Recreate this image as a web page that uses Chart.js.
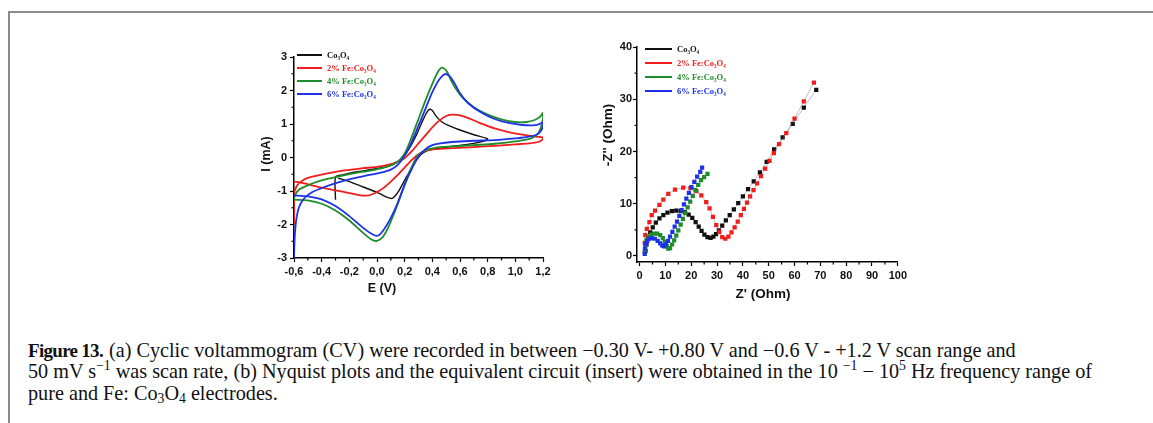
<!DOCTYPE html>
<html>
<head>
<meta charset="utf-8">
<script src="https://cdn.jsdelivr.net/npm/chart.js@4.4.1/dist/chart.umd.min.js"></script>
<style>
  html, body { margin: 0; padding: 0; background: #fff; }
  body { width: 1153px; height: 423px; position: relative; overflow: hidden; }
  .frame-top { position: absolute; left: 8px; top: 11px; right: 0; height: 2px; background: #8c8c8c; }
  .frame-left { position: absolute; left: 8px; top: 11px; width: 2px; bottom: 0; background: #8c8c8c; }
  #cv { position: absolute; left: 250px; top: 40px; }
  #ny { position: absolute; left: 600px; top: 30px; }
  .caption { position: absolute; left: 28px; top: 340px; font-family: "Liberation Serif", "DejaVu Serif", serif;
             font-size: 20.2px; line-height: 21.3px; color: #111; white-space: nowrap; }
  .caption b { font-size: 19px; letter-spacing: -0.7px; margin-right: 1px; }
  .caption sup { font-size: 0.68em; line-height: 0; vertical-align: 0.55em; }
  .caption sub { font-size: 0.68em; line-height: 0; vertical-align: -0.25em; }
</style>
</head>
<body>
<div class="frame-top"></div>
<div class="frame-left"></div>
<canvas id="cv" width="310" height="260"></canvas>
<canvas id="ny" width="310" height="275"></canvas>
<div class="caption"><b>Figure 13.</b> (a) Cyclic voltammogram (CV) were recorded in between −0.30 V- +0.80 V and −0.6 V - +1.2 V scan range and<br>50 mV s<sup>−1</sup> was scan rate, (b) Nyquist plots and the equivalent circuit (insert) were obtained in the 10 <sup>−1</sup> − 10<sup>5</sup> Hz frequency range of<br>pure and Fe: Co<sub>3</sub>O<sub>4</sub> electrodes.</div>

<script>
// series names and colours
const seriesNames = ['Co₃O₄', '2% Fe:Co₃O₄', '4% Fe:Co₃O₄', '6% Fe:Co₃O₄'];
const seriesColors = ['#111111', '#f21c1c', '#1f8c2a', '#1d32e8'];

// (a) cyclic voltammograms: E (V) / I (mA)
const cvE_co = [-0.30,-0.30,-0.25,-0.20,-0.10,0.00,0.08,0.14,0.19,0.24,0.29,0.33,0.36,0.38,0.40,0.43,0.47,0.52,0.60,0.70,0.80,
                0.78,0.70,0.60,0.50,0.42,0.36,0.32,0.28,0.24,0.20,0.16,0.13,0.11,0.08,0.04,0.00,-0.10,-0.20,-0.28];
const cvI_co = [-1.26,-0.58,-0.52,-0.47,-0.40,-0.33,-0.26,-0.16,0.02,0.32,0.72,1.10,1.35,1.44,1.40,1.22,1.06,0.95,0.82,0.68,0.56,
                0.50,0.42,0.36,0.31,0.26,0.20,0.10,-0.10,-0.38,-0.68,-0.98,-1.15,-1.22,-1.20,-1.12,-1.04,-0.88,-0.72,-0.62];

const cvE_fe2 = [-0.60,-0.60,-0.58,-0.55,-0.50,-0.40,-0.30,-0.20,-0.10,0.00,0.10,0.15,0.20,0.25,0.30,0.35,0.40,0.45,0.50,0.54,0.60,0.67,0.75,0.85,0.95,1.05,1.15,1.20,
                 1.20,1.17,1.10,1.00,0.85,0.70,0.55,0.42,0.35,0.30,0.25,0.20,0.15,0.10,0.05,0.00,-0.05,-0.08,-0.12,-0.20,-0.30,-0.40,-0.50,-0.56,-0.60];
const cvI_fe2 = [-2.00,-1.10,-0.85,-0.72,-0.61,-0.51,-0.43,-0.37,-0.32,-0.28,-0.20,-0.12,-0.02,0.18,0.42,0.66,0.90,1.10,1.24,1.28,1.26,1.16,1.02,0.87,0.76,0.68,0.62,0.60,
                 0.55,0.47,0.42,0.39,0.35,0.31,0.28,0.25,0.20,0.10,-0.08,-0.30,-0.52,-0.72,-0.90,-1.03,-1.12,-1.14,-1.13,-1.06,-0.98,-0.90,-0.80,-0.74,-0.72];

const cvE_fe4 = [-0.60,-0.59,-0.56,-0.50,-0.43,-0.35,-0.25,-0.15,-0.05,0.05,0.12,0.17,0.21,0.25,0.30,0.35,0.40,0.44,0.47,0.50,0.53,0.57,0.62,0.70,0.80,0.90,1.00,1.08,1.14,1.18,1.20,
                 1.20,1.17,1.12,1.00,0.85,0.70,0.55,0.42,0.35,0.30,0.26,0.22,0.18,0.13,0.08,0.04,0.00,-0.04,-0.10,-0.20,-0.30,-0.40,-0.50,-0.60];
const cvI_fe4 = [-1.25,-1.10,-0.95,-0.83,-0.72,-0.63,-0.54,-0.46,-0.39,-0.30,-0.20,-0.05,0.20,0.60,1.15,1.70,2.20,2.55,2.68,2.60,2.35,2.05,1.78,1.50,1.28,1.14,1.06,1.06,1.12,1.22,1.33,
                 1.15,0.75,0.58,0.48,0.41,0.37,0.33,0.29,0.22,0.08,-0.20,-0.60,-1.05,-1.60,-2.10,-2.38,-2.49,-2.45,-2.25,-1.88,-1.58,-1.38,-1.28,-1.26];

const cvE_fe6 = [-0.600,-0.595,-0.585,-0.565,-0.53,-0.47,-0.38,-0.28,-0.18,-0.08,0.02,0.10,0.15,0.20,0.25,0.30,0.35,0.40,0.45,0.49,0.52,0.56,0.60,0.66,0.75,0.85,0.95,1.05,1.12,1.17,1.20,
                 1.20,1.17,1.10,1.00,0.85,0.70,0.57,0.47,0.40,0.35,0.30,0.25,0.20,0.15,0.10,0.05,0.01,-0.03,-0.10,-0.20,-0.30,-0.40,-0.50,-0.60];
const cvI_fe6 = [-3.00,-2.40,-1.90,-1.50,-1.24,-1.04,-0.88,-0.74,-0.63,-0.54,-0.46,-0.36,-0.22,0.05,0.45,0.95,1.45,1.95,2.33,2.49,2.45,2.22,1.92,1.62,1.35,1.15,1.03,0.97,0.96,0.99,1.05,
                 0.92,0.72,0.62,0.57,0.52,0.50,0.47,0.43,0.37,0.25,0.02,-0.35,-0.80,-1.35,-1.80,-2.15,-2.33,-2.30,-2.10,-1.75,-1.45,-1.25,-1.16,-1.13];

const cvXTicks = [-0.6, -0.4, -0.2, 0.0, 0.2, 0.4, 0.6, 0.8, 1.0, 1.2];
const cvYTicks = [-3, -2, -1, 0, 1, 2, 3];

// (b) Nyquist plots: Z' (Ohm) / -Z'' (Ohm)
const nyRe_co = [2.3,2.7,3.3,4.1,5.1,6.3,7.7,9.2,10.8,12.5,14.2,15.9,17.5,19.0,20.4,21.7,22.9,24.0,25.1,26.3,27.5,28.6,29.6,30.7,32.0,33.4,34.9,36.5,38.2,40.0,42.0,44.2,46.6,49.2,52.1,55.4,59.3,63.6,68.4];
const nyIm_co = [1.0,2.2,3.4,4.5,5.5,6.4,7.2,7.8,8.3,8.6,8.7,8.65,8.4,7.9,7.3,6.5,5.6,4.8,4.1,3.6,3.45,3.7,4.2,4.9,5.8,6.8,7.8,8.9,10.1,11.4,12.8,14.3,16.0,18.0,20.4,22.7,25.3,28.4,31.8];

const nyRe_fe2 = [2.0,2.2,2.8,3.8,4.7,6.0,7.7,9.2,11.1,13.7,16.9,19.7,22.0,23.9,25.8,27.1,28.4,29.7,30.9,32.0,33.2,34.4,35.6,36.8,38.0,39.2,40.4,41.6,42.8,44.1,45.5,47.0,48.6,50.3,52.0,54.0,56.8,60.0,63.6,67.5];
const nyIm_fe2 = [2.5,4.0,5.2,6.5,7.8,8.7,9.8,10.8,11.9,12.7,13.1,13.0,12.4,11.6,10.3,9.1,7.5,5.9,4.6,3.6,3.3,3.7,4.5,5.5,6.6,7.8,9.0,10.2,11.4,12.6,13.9,15.3,16.7,18.2,19.7,21.4,23.5,26.3,29.6,33.2];

const nyRe_fe4 = [2.0,2.2,2.7,3.5,4.5,5.6,6.8,8.0,9.0,9.8,10.5,11.1,11.8,12.6,13.4,14.2,15.0,15.9,16.8,17.7,18.6,19.6,20.6,21.6,22.7,23.8,25.0,26.3];
const nyIm_fe4 = [0.8,2.0,3.0,3.7,4.1,4.3,4.3,4.0,3.4,2.7,1.9,1.4,1.5,2.2,3.0,3.9,4.9,6.0,7.1,8.2,9.3,10.4,11.5,12.6,13.6,14.5,15.1,15.7];

const nyRe_fe6 = [2.0,2.1,2.4,3.0,3.8,4.8,5.9,7.0,8.0,8.8,9.5,10.2,11.0,11.8,12.7,13.6,14.5,15.4,16.3,17.2,18.1,19.1,20.1,21.2,22.3,23.5,24.2];
const nyIm_fe6 = [0.4,1.4,2.3,2.9,3.3,3.4,3.3,2.9,2.4,2.0,1.85,2.2,2.9,3.7,4.6,5.6,6.6,7.7,8.8,9.9,11.0,12.1,13.2,14.2,15.2,16.1,16.9];

const nyXTicks = [0, 10, 20, 30, 40, 50, 60, 70, 80, 90, 100];
const nyYTicks = [0, 10, 20, 30, 40];

function pts(xs, ys) { return xs.map((x, i) => ({ x: x, y: ys[i] })); }

const tickFont = { family: '"Liberation Sans", Arial, sans-serif', size: 11, weight: 'bold' };

// minor ticks, in-plot legend and axis titles
const decor = {
  id: 'decor',
  afterDraw(chart, args, opts) {
    const ctx = chart.ctx;
    const area = chart.chartArea;
    const xs = chart.scales.x, ys = chart.scales.y;
    ctx.save();
    ctx.strokeStyle = '#000';
    ctx.lineWidth = 1.2;
    const xt = opts.xTicks, yt = opts.yTicks;
    for (let i = 0; i < xt.length - 1; i++) {
      const px = xs.getPixelForValue((xt[i] + xt[i + 1]) / 2);
      ctx.beginPath(); ctx.moveTo(px, area.bottom); ctx.lineTo(px, area.bottom + 2.5); ctx.stroke();
    }
    for (let i = 0; i < yt.length - 1; i++) {
      const py = ys.getPixelForValue((yt[i] + yt[i + 1]) / 2);
      ctx.beginPath(); ctx.moveTo(area.left, py); ctx.lineTo(area.left - 2.5, py); ctx.stroke();
    }

    // legend
    const lg = opts.legend;
    ctx.font = 'bold 8.5px "Liberation Serif", "DejaVu Serif", serif';
    ctx.textBaseline = 'middle';
    ctx.textAlign = 'left';
    seriesNames.forEach((name, i) => {
      const y = lg.y + i * lg.dy;
      ctx.strokeStyle = seriesColors[i];
      ctx.lineWidth = 2;
      ctx.beginPath(); ctx.moveTo(lg.x, y); ctx.lineTo(lg.x + lg.len, y); ctx.stroke();
      ctx.fillStyle = seriesColors[i];
      ctx.fillText(name, lg.x + lg.len + 5, y + 0.5);
    });

    // axis titles
    ctx.fillStyle = '#111';
    ctx.font = 'bold ' + opts.titleSize + 'px "Liberation Sans", Arial, sans-serif';
    ctx.textAlign = 'center';
    ctx.fillText(opts.xTitle.text, opts.xTitle.x, opts.xTitle.y);
    ctx.translate(opts.yTitle.x, opts.yTitle.y);
    ctx.rotate(-Math.PI / 2);
    ctx.fillText(opts.yTitle.text, 0, 0);
    ctx.restore();
  }
};

function axis(min, max, ticks, fmt, fitSize, isX, pad) {
  return {
    type: 'linear',
    min: min,
    max: max,
    afterBuildTicks: (s) => { s.ticks = ticks.map(v => ({ value: v })); },
    afterFit: (s) => { if (isX) s.height = fitSize; else s.width = fitSize; },
    border: { display: true, color: '#000', width: 1.5 },
    grid: { display: true, drawOnChartArea: false, drawTicks: true, tickLength: 4, tickColor: '#000', tickWidth: 1.2 },
    ticks: { color: '#111', font: tickFont, padding: pad, maxRotation: 0, autoSkip: false, callback: fmt }
  };
}

const cvSets = [[cvE_co, cvI_co, 1.4], [cvE_fe2, cvI_fe2, 1.8], [cvE_fe4, cvI_fe4, 1.8], [cvE_fe6, cvI_fe6, 1.8]];

new Chart(document.getElementById('cv'), {
  type: 'scatter',
  data: {
    datasets: cvSets.map((s, i) => ({
      label: seriesNames[i],
      data: pts(s[0], s[1]),
      showLine: true,
      borderColor: seriesColors[i],
      borderWidth: s[2],
      pointRadius: 0,
      tension: 0.25,
      order: 4 - i
    }))
  },
  options: {
    responsive: false,
    animation: false,
    events: [],
    layout: { padding: { top: 17, right: 17, left: 0, bottom: 0 } },
    scales: {
      x: axis(-0.6, 1.2, cvXTicks, v => v.toFixed(1).replace('.', ','), 42, true, 3),
      y: axis(-3, 3, cvYTicks, v => String(v), 44, false, 3)
    },
    plugins: {
      legend: { display: false },
      tooltip: { enabled: false },
      decor: {
        xTicks: cvXTicks, yTicks: cvYTicks,
        legend: { x: 47, y: 15, dy: 13, len: 25 },
        titleSize: 12.5,
        xTitle: { text: 'E (V)', x: 132, y: 249 },
        yTitle: { text: 'I (mA)', x: 17, y: 114 }
      }
    }
  },
  plugins: [decor]
});

const nySets = [[nyRe_co, nyIm_co], [nyRe_fe2, nyIm_fe2], [nyRe_fe4, nyIm_fe4], [nyRe_fe6, nyIm_fe6]];

new Chart(document.getElementById('ny'), {
  type: 'scatter',
  data: {
    datasets: nySets.map((s, i) => ({
      label: seriesNames[i],
      data: pts(s[0], s[1]),
      showLine: true,
      borderColor: 'rgba(110,110,110,0.55)',
      borderWidth: 0.8,
      pointStyle: 'rect',
      pointRadius: 3,
      pointBorderWidth: 0,
      pointBackgroundColor: seriesColors[i],
      order: 4 - i
    }))
  },
  options: {
    responsive: false,
    animation: false,
    events: [],
    layout: { padding: { top: 17, right: 12, left: 0, bottom: 0 } },
    scales: {
      x: axis(-1, 100, nyXTicks, v => String(v), 43, true, 3),
      y: axis(-1.15, 40, nyYTicks, v => String(v), 37, false, 1)
    },
    plugins: {
      legend: { display: false },
      tooltip: { enabled: false },
      decor: {
        xTicks: nyXTicks, yTicks: nyYTicks,
        legend: { x: 45, y: 19, dy: 14, len: 27 },
        titleSize: 13.5,
        xTitle: { text: "Z' (Ohm)", x: 163, y: 264 },
        yTitle: { text: "-Z'' (Ohm)", x: 8, y: 105 }
      }
    }
  },
  plugins: [decor]
});
</script>
</body>
</html>
